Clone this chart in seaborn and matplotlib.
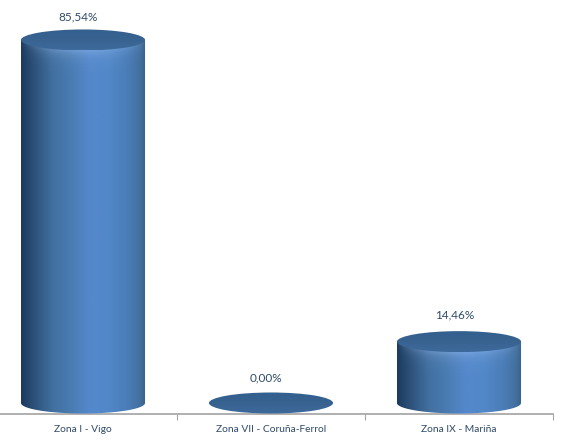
#!/usr/bin/env python
"""Cylinder column chart of percentages per zone"""
import numpy as np
import matplotlib
matplotlib.use('Agg')
import matplotlib.pyplot as plt
from matplotlib.colors import LinearSegmentedColormap
from matplotlib.patches import Ellipse, PathPatch
from matplotlib.path import Path
import seaborn as sns

#Chart data
zonas = ['Zona I - Vigo', 'Zona VII - Coruña-Ferrol', 'Zona IX - Mariña']
porcentajes = [85.54, 0.00, 14.46]
etiquetas = ['85,54%', '0,00%', '14,46%']

sns.set_theme(style='white')
plt.rcParams['font.family'] = ['Lato', 'DejaVu Sans']

TEXT = '#2f4a68'
CAP_RY = 4.95 / 2
#gap between the top of each cylinder and its label
LABEL_GAP = [5.5, 5.9, 6.4]
side = LinearSegmentedColormap.from_list('side', [
    (0.00, '#1c3a5e'), (0.10, '#2c5078'), (0.25, '#416f9f'), (0.40, '#4a7cb2'),
    (0.55, '#5488cc'), (0.70, '#5288c8'), (0.85, '#4a7db8'), (0.95, '#44719f'), (1.00, '#3b6288')])
cap = LinearSegmentedColormap.from_list('cap', ['#33608f', '#38628f', '#3d6a9c'])

fig, ax = plt.subplots(figsize=(5.68, 4.48), dpi=100)
fig.subplots_adjust(left=0, right=1, bottom=0, top=1)

#The bars give the geometry, the cylinders are painted over them
sns.barplot(x=zonas, y=porcentajes, width=0.66, color='white', ax=ax)

xlim = (-83 / 188, (568 - 83) / 188)
ylim = (-45 / 4.244, 403 / 4.244)

for bar, label, gap in zip(ax.patches, etiquetas, LABEL_GAP):
    x0, w, h = bar.get_x(), bar.get_width(), bar.get_height()
    bar.set_visible(False)
    cx = x0 + w / 2
    if h > 0:
        theta = np.linspace(np.pi, 2 * np.pi, 60)
        verts = [(x0, h)] + [(cx + w / 2 * np.cos(t), CAP_RY * np.sin(t)) for t in theta] + [(x0 + w, h), (x0, h)]
        codes = [Path.MOVETO] + [Path.LINETO] * (len(verts) - 2) + [Path.CLOSEPOLY]
        clip = PathPatch(Path(verts, codes), transform=ax.transData, fc='none', ec='none')
        ax.add_patch(clip)
        grad = np.linspace(0, 1, 256).reshape(1, -1)
        im = ax.imshow(grad, cmap=side, extent=(x0, x0 + w, -CAP_RY, h), aspect='auto', zorder=2)
        im.set_clip_path(clip)
        #glow under the front edge of the top
        xs = np.linspace(-1, 1, 200)
        ys = np.linspace(h, max(h - 8, -CAP_RY), 80)
        edge = h - CAP_RY * np.sqrt(1 - xs ** 2)
        d = np.clip(edge[None, :] - ys[:, None], 0, None)
        rgba = np.ones((80, 200, 4))
        rgba[..., :3] = (0.62, 0.76, 0.95)
        rgba[..., 3] = 0.4 * np.exp(-d / 1.6) * (1 - xs ** 2) ** 0.7
        glow = ax.imshow(rgba, extent=(x0, x0 + w, ys[-1], h), aspect='auto', zorder=2.5)
        glow.set_clip_path(clip)
    top = Ellipse((cx, h), w, 2 * CAP_RY, fc='none', ec='none', zorder=3)
    ax.add_patch(top)
    grad = np.linspace(0, 1, 64).reshape(-1, 1)
    im = ax.imshow(grad, cmap=cap, extent=(x0, x0 + w, h - CAP_RY, h + CAP_RY), aspect='auto', zorder=3)
    im.set_clip_path(top)
    ax.text(cx - 0.025, h + gap, label, ha='center', va='center', fontsize=8.5, color=TEXT, zorder=4)

ax.set_xlim(xlim)
ax.set_ylim(ylim)

#Axis line at the foot of the cylinders, ticks between categories
ax.spines[['top', 'left', 'right']].set_visible(False)
ax.spines['bottom'].set_position(('data', -11 / 4.244))
ax.spines['bottom'].set_color('#a6a6a6')
ax.spines['bottom'].set_zorder(1)
ax.spines['bottom'].set_bounds(xlim[0], 2.5)
ax.set_yticks([])
ax.set_xticks([0.5, 1.5, 2.5], minor=True)
ax.tick_params(axis='x', which='minor', bottom=True, length=4, width=0.8, color='#a6a6a6')
ax.tick_params(axis='x', which='major', bottom=False, length=0, pad=8, labelsize=7.4, labelcolor=TEXT)
ax.set_xlabel('')
ax.set_ylabel('')

fig.savefig('out.png', dpi=100, facecolor='white')
